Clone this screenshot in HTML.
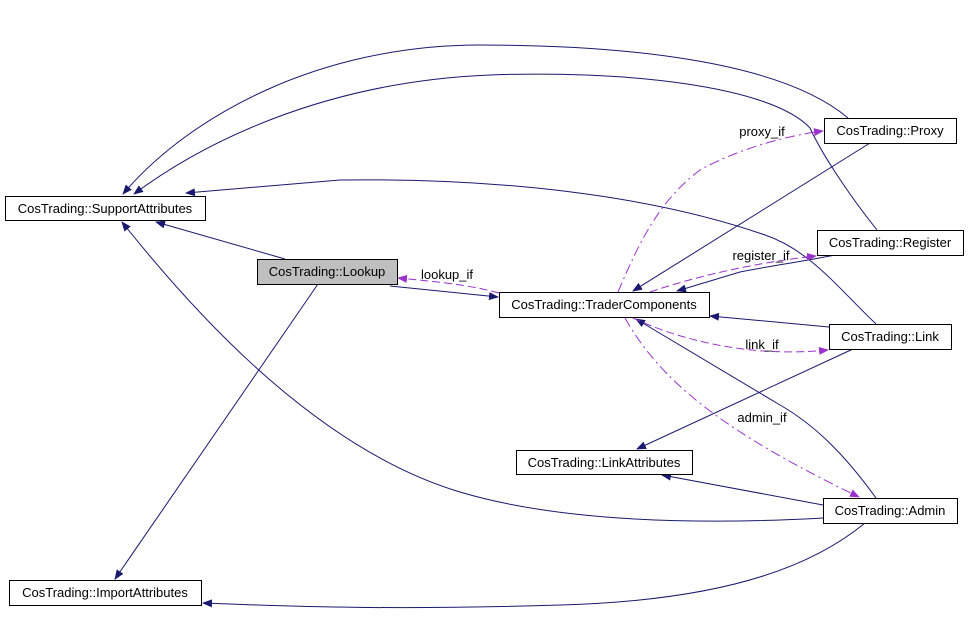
<!DOCTYPE html>
<html><head><meta charset="utf-8"><style>body{margin:0;background:#fff}svg{display:block}</style></head><body>
<svg width="968" height="628" viewBox="0 0 968 628" xmlns="http://www.w3.org/2000/svg" font-family="Liberation Sans, DejaVu Sans, sans-serif" font-size="13">
<defs>
<marker id="n" markerWidth="10" markerHeight="8" refX="9" refY="4" orient="auto" markerUnits="userSpaceOnUse"><path d="M0,0 L10,4 L0,8 z" fill="#191970"/></marker>
<marker id="p" markerWidth="10" markerHeight="8" refX="9" refY="4" orient="auto" markerUnits="userSpaceOnUse"><path d="M0,0 L10,4 L0,8 z" fill="#9a32cd"/></marker>
</defs>
<g fill="none" stroke="#191970" stroke-width="1" marker-end="url(#n)">
<path d="M848,118 C780,60 620,45 480,45 C320,45 190,115 123,194"/>
<path d="M877,230 C845,190 820,150 810,128 C770,85 620,70 490,75 C320,82 200,145 134,194"/>
<path d="M876,324 C840,290 810,250 765,235 C650,195 500,178 340,180 L186,193"/>
<path d="M285,259 L156,222"/>
<path d="M823,518 C700,525 560,522 460,492 C320,450 200,320 122,222"/>
<path d="M318,284 L115,579"/>
<path d="M390,286 L498,297"/>
<path d="M870,143 L633,291"/>
<path d="M835,255 C800,262 770,266 740,272 L677,291"/>
<path d="M829,327 L710,316"/>
<path d="M876,498 C845,455 815,425 780,405 L636,319"/>
<path d="M853,349 L637,449"/>
<path d="M823,505 L662,475"/>
<path d="M865,523 C820,560 740,600 560,605 C400,610 300,607 203,603"/>
</g>
<g fill="none" stroke="#9a32cd" stroke-width="1" marker-end="url(#p)">
<path d="M499,293 C470,285 440,282 398,278" stroke-dasharray="8,4"/>
<path d="M618,292 C640,240 660,200 700,170 C740,148 790,135 823,131" stroke-dasharray="10,4,2,4"/>
<path d="M650,292 C700,275 760,262 816,256" stroke-dasharray="8,4"/>
<path d="M633,318 C680,340 750,358 828,350" stroke-dasharray="8,4"/>
<path d="M625,318 C660,380 720,430 859,497" stroke-dasharray="10,4,2,4"/>
</g>
<g fill="#fff" stroke="#000" stroke-width="1">
<rect x="5.5" y="196.5" width="200" height="24"/>
<rect x="257.5" y="259.5" width="140" height="25" fill="#bfbfbf"/>
<rect x="499.5" y="292.5" width="210" height="25"/>
<rect x="824.5" y="118.5" width="132" height="25"/>
<rect x="817.5" y="230.5" width="146" height="25"/>
<rect x="829.5" y="324.5" width="122" height="25"/>
<rect x="516.5" y="450.5" width="176" height="24"/>
<rect x="823.5" y="498.5" width="134" height="25"/>
<rect x="9.5" y="580.5" width="192" height="25"/>
</g>
<g fill="#000" text-anchor="middle">
<text x="105" y="213">CosTrading::SupportAttributes</text>
<text x="327" y="276">CosTrading::Lookup</text>
<text x="604" y="309">CosTrading::TraderComponents</text>
<text x="890" y="135">CosTrading::Proxy</text>
<text x="890" y="247">CosTrading::Register</text>
<text x="890" y="341">CosTrading::Link</text>
<text x="604" y="467">CosTrading::LinkAttributes</text>
<text x="890" y="515">CosTrading::Admin</text>
<text x="105" y="597">CosTrading::ImportAttributes</text>
<text x="447" y="279">lookup_if</text>
<text x="762" y="136">proxy_if</text>
<text x="761" y="260">register_if</text>
<text x="762" y="349">link_if</text>
<text x="762" y="422">admin_if</text>
</g>
</svg>
</body></html>
